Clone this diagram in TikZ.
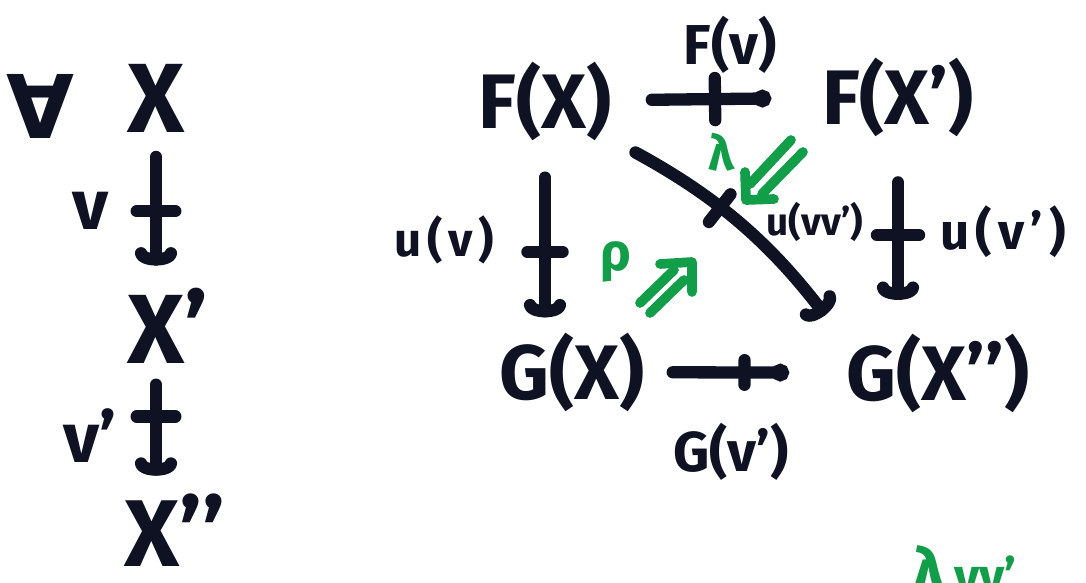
\documentclass[tikz,border=0pt]{standalone}
\usepackage{fontspec}
\setmainfont{Fira Sans}
\newfontfamily\symfont{DejaVu Sans}
\usetikzlibrary{arrows.meta,decorations.markings}
\definecolor{ink}{RGB}{14,18,34}
\definecolor{marker}{RGB}{18,158,72}

\tikzset{
  box/.style 2 args={minimum width=#1*0.02cm, minimum height=#2*0.02cm},
  obj/.style={inner sep=0pt, text=ink, font=\bfseries\fontsize{#1}{#1}\selectfont},
  obj/.default=44,
  cell/.style={inner sep=0pt, text=marker, font=\bfseries\fontsize{#1}{#1}\selectfont},
  stroke/.style={draw=ink, line width=7pt, line cap=round, line join=round},
  cupto/.style={-{Arc Barb[length=7pt,width=24pt,round]}},
  ballto/.style={-{Circle[length=10pt]}},
  tick/.style 2 args={postaction={decorate}, decoration={markings,
      mark=at position #1 with {\draw[ink, -, shorten <=0pt, shorten >=0pt, line width=7pt, line cap=round] (0,-#2) -- (0,#2);}}},
  twocell/.style={draw=marker, line width=5.5pt, line cap=round, line join=round},
}

\begin{document}
\begin{tikzpicture}[x=0.02cm, y=-0.02cm]
\useasboundingbox (0,0) rectangle (1086,582);
\clip (0,0) rectangle (1086,582);
\fill[white] (0,0) rectangle (1086,582);

% the arrows v, v' on the left
\node[obj=50, box={51}{78}] (all) at (40,106) {\symfont ∀};
\node[obj=56, box={51}{75}] (X) at (156,98) {X};
\node[obj=56, box={70}{78}] (X1) at (168,326) {X’};
\node[obj=54, box={70}{66}] (X2) at (175,530) {X’’};
\node[obj=40] (v) at (91,211) {v};
\node[obj=40] (v1) at (90,436) {v’};
\draw[stroke, cupto, tick={0.5}{11pt}, shorten <=12pt, shorten >=12pt] (X) -- (X |- X1.north);
\draw[stroke, cupto, tick={0.4}{11pt}, shorten <=11pt, shorten >=10pt] (X1.south -| X) -- (X2.north -| X);

% the square
\node[obj, box={137}{70}] (FX) at (545,101) {F(X)};
\node[obj, box={163}{63}] (FX1) at (898,97) {F(X’)};
\node[obj, box={155}{68}] (GX) at (572,372) {G(X)};
\node[obj, box={197}{77}] (GX2) at (938,373) {G(X’’)};

\node[obj=32] (Fv) at (730,45) {F(v)};
\node[obj=32] (Gv1) at (731,452) {G(v’)};
\node[obj=27, font=\bfseries\fontsize{27}{27}\selectfont\addfontfeature{LetterSpace=12}] (uv) at (444,240) {u(v)};
\node[obj=22] (uvv) at (815,222) {u(vv’)};
\node[obj=29, font=\bfseries\fontsize{29}{29}\selectfont\addfontfeature{LetterSpace=12}] (uv1) at (1003,232) {u(v’)};

\draw[stroke, ballto, tick={0.5}{12pt}, shorten <=21.6pt, shorten >=25.6pt] (FX) -- (FX1);
\draw[stroke, ballto, tick={0.5}{7pt}, shorten <=13pt, shorten >=28.5pt] (GX) -- (GX2);
\draw[stroke, cupto, tick={0.58}{10pt}, shorten <=21pt, shorten >=8.5pt] (FX.south) -- (FX.south |- GX.north);
\draw[stroke, cupto, tick={0.5}{12pt}, shorten <=26pt, shorten >=19pt] (FX1.south) -- (FX1.south |- GX2.north);
\draw[stroke, cupto, tick={0.42}{10pt}, shorten <=14pt, shorten >=13pt] (FX.south east) to[bend left=12] (GX2.north west);

% the two 2-cells
\node[cell=28] (lam) at (722,152) {λ};
\draw[twocell] (803,152) -- (762,194) (791,140) -- (750,184);
\draw[twocell] (774,199) -- (746,200) -- (745,172);
\node[cell=30] (rho) at (616,262) {ρ};
\draw[twocell] (650,313) -- (684,280) (640,303) -- (674,270);
\draw[twocell] (660,264) -- (692,262) -- (692,292);

% next line, running off the bottom edge
\node[cell=36, anchor=north west] (lam2) at (912,545) {λ\fontsize{28}{28}\selectfont\,vv’};
\end{tikzpicture}
\end{document}
